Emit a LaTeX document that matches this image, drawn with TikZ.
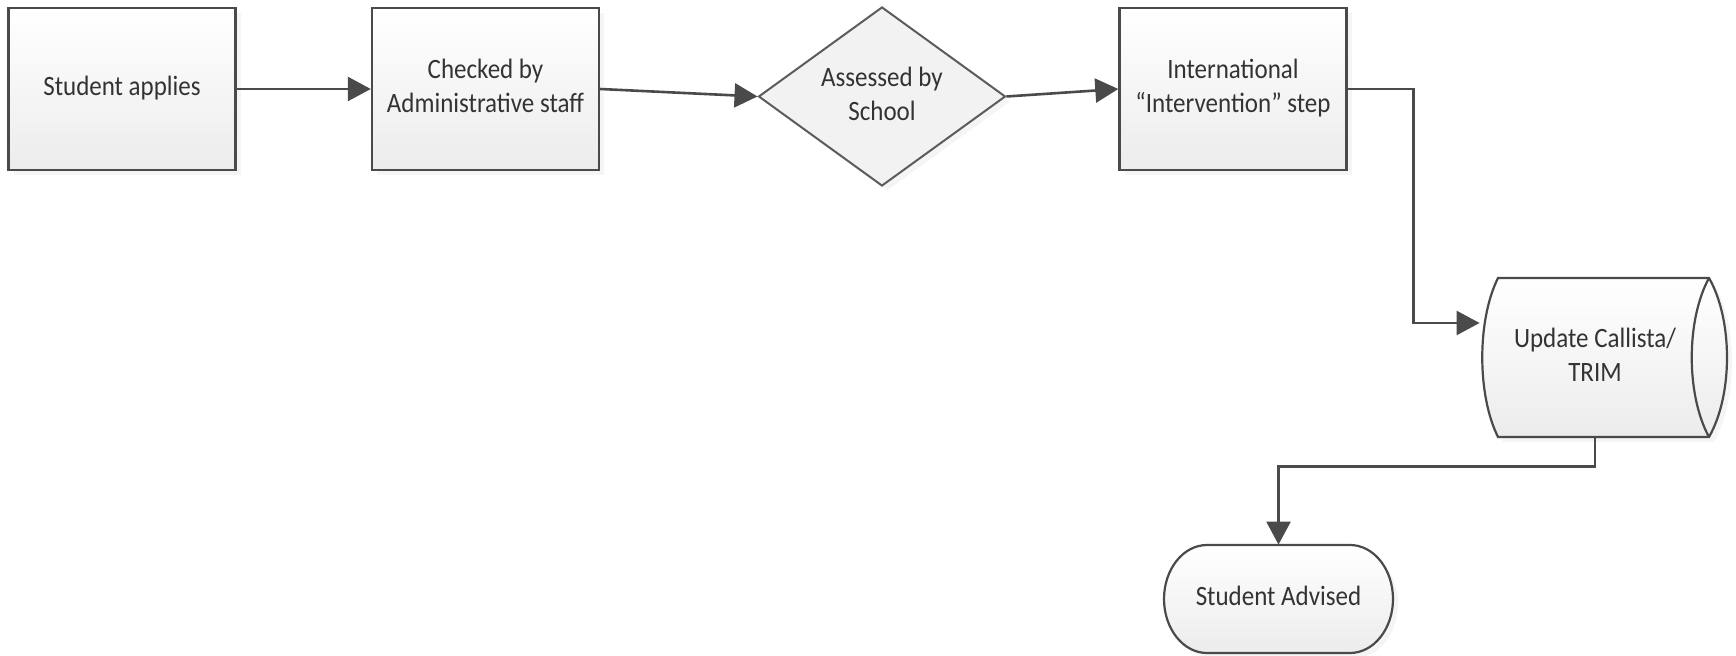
\documentclass[tikz,border=0pt]{standalone}
\usepackage{fontspec}
\setmainfont{Carlito}
\usepackage{graphicx}
\usetikzlibrary{arrows.meta,shapes.geometric,shadows,calc}
\definecolor{edge}{HTML}{4A4A4A}
\definecolor{txt}{HTML}{333333}
\definecolor{fillbot}{HTML}{ECECEC}
\newcommand{\vtxt}[1]{\scalebox{1}[1.12]{\begin{tabular}{@{}c@{}}#1\end{tabular}}}
\tikzset{
  shapetxt/.style={font=\fontsize{12.5pt}{15.3pt}\selectfont, text=txt, inner sep=0pt},
  shad/.style={drop shadow={shadow xshift=2.5pt, shadow yshift=-2.5pt, fill=black!8}},
  procbox/.style={shapetxt, rectangle, draw=edge, line width=1.2pt,
    top color=white, bottom color=fillbot, shad,
    minimum width=113.5pt, minimum height=81pt},
  decbox/.style={shapetxt, diamond, draw=edge!90, line width=1pt, fill=black!5, shad,
    minimum width=123.5pt, minimum height=89.5pt, aspect=1.38},
  ghost/.style={shapetxt, rectangle, draw=none},
  outline/.style={draw=edge, line width=1.1pt, top color=white, bottom color=fillbot, shad},
  conn/.style={draw=edge, line width=1.3pt, -{Triangle[length=11.5pt,width=12pt]}},
}
\begin{document}
\begin{tikzpicture}[x=0.5pt,y=-0.5pt]
\useasboundingbox (0,0) rectangle (1736,656);
% process boxes
\node[procbox] (apply) at (122,89) {\vtxt{Student applies}};
\node[procbox] (check) at (485.5,89) {\vtxt{Checked by\\Administrative staff}};
\node[decbox] (assess) at (882,96.5) {\vtxt{Assessed by\\School}};
\node[procbox] (inter) at (1233,89) {\vtxt{International\\“Intervention” step}};
% cylinder (stored data), lens-shaped ends
\path[outline] (1498,278) -- (1709,278)
  .. controls (1733,320) and (1733,395) .. (1709,437)
  -- (1498,437)
  .. controls (1477,395) and (1477,320) .. (1498,278) -- cycle;
\draw[draw=edge, line width=1.1pt] (1709,278)
  .. controls (1686,320) and (1686,395) .. (1709,437);
\node[ghost, minimum width=114pt, minimum height=79.5pt] (trim) at (1595,357.5)
  {\vtxt{Update Callista/\\TRIM}};
% terminator
\path[outline] (1207,545) -- (1350,545)
  arc[start angle=90, end angle=-90, x radius=21.5pt, y radius=27pt]
  -- (1207,653)
  arc[start angle=270, end angle=90, x radius=21.5pt, y radius=27pt] -- cycle;
\node[ghost, minimum width=114.5pt, minimum height=54pt] (advised) at (1278.5,599)
  {\vtxt{Student Advised}};
% connectors
\draw[conn] (apply.east) -- (check.west);
\draw[conn] (check.east) -- (assess.west);
\draw[conn] (assess.east) -- (inter.west);
\draw[conn] (inter.east) -- ++(66,0) |- ($(trim.west)+(-1,-34.5)$);
\draw[conn] (trim.south) -- ++(0,29) -| (advised.north);
\end{tikzpicture}
\end{document}
